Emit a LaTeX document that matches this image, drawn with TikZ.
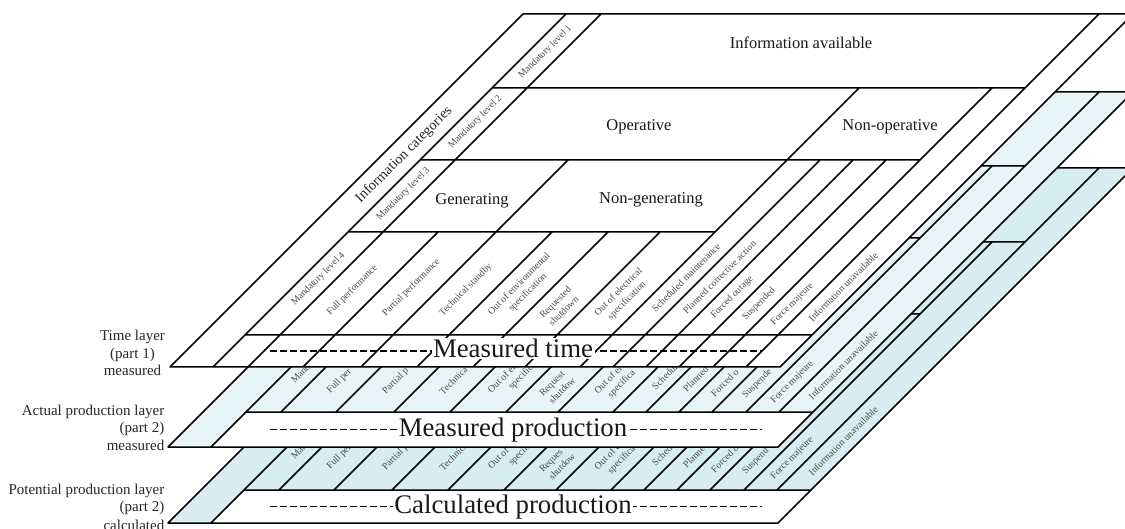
\documentclass[tikz,border=0pt]{standalone}
\usepackage{fontspec}
\setmainfont{Liberation Serif}
\definecolor{layertwo}{RGB}{232,245,248}
\definecolor{layerthree}{RGB}{216,237,242}
\tikzset{
  ln/.style={line width=1.5pt, line join=round, line cap=round},
  lab/.style={font=\fontsize{9.7}{12}\selectfont, text=black!70, rotate=45, anchor=west, inner sep=0pt, align=center},
  labl/.style={lab, align=left},
  cat/.style={font=\fontsize{14.3}{17}\selectfont, text=black!85, rotate=45, anchor=west, inner sep=0pt},
  big/.style={font=\fontsize{16.5}{19}\selectfont, text=black!90, anchor=base, inner sep=0pt},
  bandtxt/.style={font=\fontsize{26.8}{30}\selectfont, text=black!90, anchor=base, fill=white, inner xsep=1.5pt, inner ysep=1pt},
  side/.style={font=\fontsize{15}{17}\selectfont, text=black!85, inner sep=0pt},
  dsh/.style={line width=1.2pt, dash pattern=on 6.5pt off 3.5pt},
  lay/.style={yshift=-#1pt, x={(1pt,0pt)}, y={(-1pt,-1pt)}},
}
% #1 shift, #2 band top, #3 front, #4 fill, #5 column bottom, #6 band text, #7 id
\newcommand{\drawlayer}[7]{%
\begin{scope}[lay=#1]
  \fill[#4] (537,14) -- (1147,14) -- (1147,#3) -- (537,#3) -- cycle;
  \fill[white] (580,#2) -- (1147,#2) -- (1147,#3) -- (580,#3) -- cycle;
  \draw[dsh] ({270+(#2+#3)/2},{(#2+#3)/2}) -- ({762+(#2+#3)/2},{(#2+#3)/2});
  \draw[ln] (537,14) -- (1147,14) (580,88) -- (1113,88) (580,160) -- (1080,160)
    (580,232) -- (947,232) (580,#2) -- (1147,#2) (537,#3) -- (1147,#3)
    (537,14) -- (537,#3) (580,14) -- (580,#3) (1147,14) -- (1147,#3)
    (615,14) -- (615,#5) (670,232) -- (670,#5) (728,160) -- (728,#5)
    (784,232) -- (784,#5) (840,232) -- (840,#5) (892,232) -- (892,#5)
    (947,88) -- (947,#5) (980,160) -- (980,#5) (1013,160) -- (1013,#5)
    (1046,160) -- (1046,#5) (1080,88) -- (1080,#5) (1113,14) -- (1113,#5);
  \node[bandtxt] (#7band) at ({513+(#2+#3)/2+7},{(#2+#3)/2+7}) {#6};
\end{scope}}
\begin{document}
\begin{tikzpicture}[x=1pt,y=-1pt]
\useasboundingbox (0,0) rectangle (1125,529);
\clip (0,0) rectangle (1125,529);
% ---------- potential production layer ----------
\drawlayer{154}{336}{369}{layerthree}{336}{Calculated production}{L3}
\begin{scope}[lay=154]
  \node[lab] (L3md) at (597.5,304.5) {Mandatory};
  \node[lab] (L3fp) at (642.5,314) {Full per};
  \node[lab] (L3pp) at (699,315) {Partial p};
  \node[lab] (L3ts) at (756,315) {Technica};
  \node[labl] (L3oe) at (812,318) {Out of en\\\hspace*{17pt}specifica};
  \node[labl] (L3rs) at (866,321) {Reques\\\hspace*{1.4pt}shutdow};
  \node[labl] (L3oel) at (919.5,319) {Out of el\\\hspace*{6.7pt}specifica};
  \node[lab] (L3sm) at (963.5,310) {Schedule};
  \node[lab] (L3pc) at (996.5,312) {Planned};
  \node[lab] (L3fo) at (1029.5,317) {Forced o};
  \node[lab] (L3su) at (1063,319) {Suspend};
  \node[lab] (L3fm) at (1096.5,324) {Force majeure};
  \node[lab] (L3iu) at (1130,320) {Information unavailable};
\end{scope}
% ---------- actual production layer ----------
\drawlayer{78}{334}{369}{layertwo}{334}{Measured production}{L2}
\begin{scope}[lay=78]
  \node[lab] (L2md) at (597.5,304.5) {Mandatory};
  \node[lab] (L2fp) at (642.5,314) {Full per};
  \node[lab] (L2pp) at (699,315) {Partial p};
  \node[lab] (L2ts) at (756,315) {Technica};
  \node[labl] (L2oe) at (812,318) {Out of en\\\hspace*{17pt}specifica};
  \node[labl] (L2rs) at (866,321) {Request\\\hspace*{1.4pt}shutdow};
  \node[labl] (L2oel) at (919.5,319) {Out of el\\\hspace*{6.7pt}specifica};
  \node[lab] (L2sm) at (963.5,310) {Schedule};
  \node[lab] (L2pc) at (996.5,312) {Planned};
  \node[lab] (L2fo) at (1029.5,317) {Forced o};
  \node[lab] (L2su) at (1063,319) {Suspende};
  \node[lab] (L2fm) at (1096.5,324) {Force majeure};
  \node[lab] (L2iu) at (1130,320) {Information unavailable};
\end{scope}
% ---------- time layer ----------
\drawlayer{0}{335}{367}{white}{367}{Measured time}{L1}
\begin{scope}[lay=0]
  \node[cat] (cat) at (559,201) {Information categories};
  \node[lab] (ma) at (597.5,77.5) {Mandatory level 1};
  \node[lab] (mb) at (597.5,147.5) {Mandatory level 2};
  \node[lab] (mc) at (597.5,219.5) {Mandatory level 3};
  \node[lab] (md) at (597.5,304.5) {Mandatory level 4};
  \node[big] (ia) at (850,49) {Information available};
  \node[big] (op) at (770,131) {Operative};
  \node[big] (nop) at (1021,131) {Non-operative};
  \node[big] (gen) at (677,205) {Generating};
  \node[big] (ngen) at (855,204) {Non-generating};
  \node[lab] (fp) at (642.5,314) {Full performance};
  \node[lab] (pp) at (699,315) {Partial performance};
  \node[lab] (ts) at (756,315) {Technical standby};
  \node[lab] (oe) at (812,318) {Out of environmental\\specification};
  \node[lab] (rs) at (866,321) {Requested\\shutdown};
  \node[lab] (oel) at (919.5,319) {Out of electrical\\specification};
  \node[lab] (sm) at (963.5,310) {Scheduled maintenance};
  \node[lab] (pc) at (996.5,312) {Planned corrective action};
  \node[lab] (fo) at (1029.5,317) {Forced outage};
  \node[lab] (su) at (1063,319) {Suspended};
  \node[lab] (fm) at (1096.5,324) {Force majeure};
  \node[lab] (iu) at (1130,320) {Information unavailable};
\end{scope}
% ---------- layer names ----------
\node[side, anchor=base] (t1) at (132.5,341) {Time layer};
\node[side, anchor=base] (t2) at (132.5,358.4) {(part 1)};
\node[side, anchor=base] (t3) at (132.5,375.8) {measured};
\node[side, anchor=base east] (a1) at (164.5,415) {Actual production layer};
\node[side, anchor=base east] (a2) at (164.5,432.5) {(part 2)};
\node[side, anchor=base east] (a3) at (164.5,450) {measured};
\node[side, anchor=base east] (p1) at (164.5,494) {Potential production layer};
\node[side, anchor=base east] (p2) at (164.5,511.5) {(part 2)};
\node[side, anchor=base east] (p3) at (164.5,530) {calculated};
\end{tikzpicture}
\end{document}
